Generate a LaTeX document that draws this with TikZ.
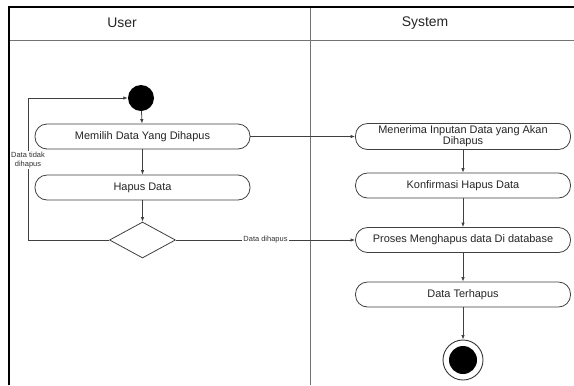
\documentclass[tikz,border=0pt]{standalone}
\usepackage{fontspec}
\setmainfont{Liberation Sans}
\usetikzlibrary{arrows.meta,shapes.geometric}
\tikzset{
  act/.style={draw=black!75, line width=0.8bp, rounded corners=12bp,
    minimum width=215bp, minimum height=25bp, inner sep=1bp,
    font=\fontsize{11}{12.5}\selectfont, align=center, text=black!85},
  flow/.style={draw=black!75, line width=0.8bp,
    -{Latex[length=4.5bp,width=3.5bp]}},
  small/.style={font=\fontsize{7.5}{8.5}\selectfont, text=black!80, inner sep=1bp},
  lane/.style={draw=black!55, line width=1bp},
  head/.style={font=\fontsize{14}{16}\selectfont, text=black!85}
}
\begin{document}
\begin{tikzpicture}[x=1bp,y=-1bp]
\useasboundingbox (0,0) rectangle (574,385);
\fill[white] (0,0) rectangle (574,385);

% swimlane frame
\draw[lane] (8,40) -- (574,40);
\draw[lane] (310,7) -- (310,385);
\draw[line width=2bp] (8.5,385) -- (8.5,7) -- (574,7);
\node[head] (huser) at (122,23) {User};
\node[head] (hsys) at (425,23) {System};

% user lane
\node[circle, fill=black, minimum size=26bp, inner sep=0] (start) at (141,98) {};
\node[act] (pilih) at (142.5,136.5) {Memilih Data Yang Dihapus};
\node[act] (hapus) at (142.5,187.5) {Hapus Data};
\node[diamond, draw=black!75, line width=0.8bp, minimum width=66bp,
  minimum height=36bp, inner sep=0] (dec) at (142.5,240) {};

% system lane
\node[act, minimum height=26bp] (terima) at (463,136.5)
  {Menerima Inputan Data yang Akan\\[-1.5bp]Dihapus};
\node[act] (konf) at (463,185.5) {Konfirmasi Hapus Data};
\node[act] (proses) at (463,240) {Proses Menghapus data Di database};
\node[act] (hasil) at (463,294.5) {Data Terhapus};
\node[circle, draw=black!80, line width=0.9bp, minimum size=40bp, inner sep=0] (end) at (463,360) {};
\node[circle, fill=black, minimum size=28bp, inner sep=0] (endin) at (end.center) {};

% flows
\draw[flow] (start) -- (pilih);
\draw[flow] (pilih) -- (hapus);
\draw[flow] (hapus) -- (dec);
\draw[flow] (pilih.east) -- (terima.west);
\draw[flow] (terima) -- (konf);
\draw[flow] (konf) -- (proses);
\draw[flow] (proses) -- (hasil);
\draw[flow] (hasil) -- (end);
\coordinate (lb) at (28,240);
\coordinate (lt) at (28,98);
\draw[flow] (dec.west) -- (lb) -- (lt) -- (start.west);
\node[small, fill=white, align=center] (ltext) at (28,160) {Data tidak\\dihapus};
\draw[flow] (dec.east) -- node[small, fill=white] (rtext) {Data dihapus} (proses.west);
\end{tikzpicture}
\end{document}
